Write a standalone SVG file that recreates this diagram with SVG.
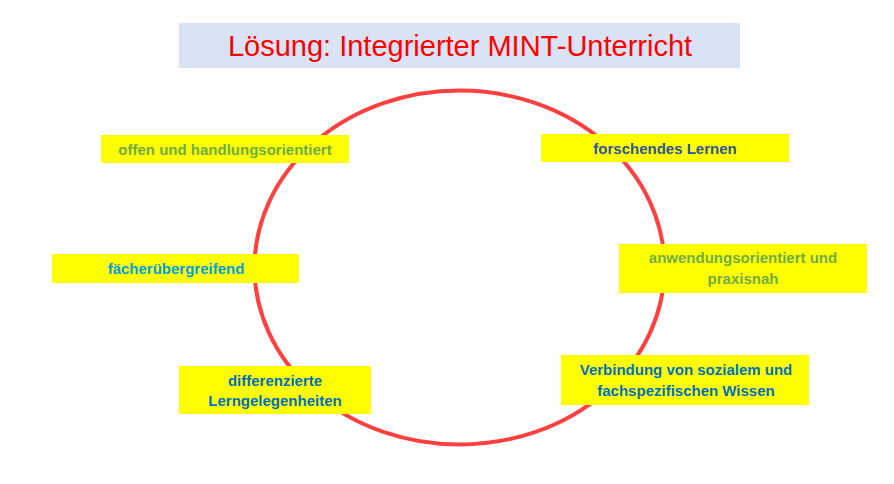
<svg xmlns="http://www.w3.org/2000/svg" width="894" height="484" viewBox="0 0 894 484">
<style>
.box{fill:#FFFF00}
.t{font-family:"Liberation Sans",Arial,sans-serif;font-weight:bold;font-size:15px;text-anchor:middle}
.g{fill:#70AD47}
.db{fill:#2F5597}
.cy{fill:#00A0E0}
.bl{fill:#0070C0}
</style>
<rect width="894" height="484" fill="#FFFFFF"/>
<g id="title">
<rect x="179" y="23" width="561" height="45" fill="#DAE3F3"/>
<text x="460" y="56" font-family="Liberation Sans, Arial, sans-serif" font-size="29" fill="#FF0000" text-anchor="middle">Lösung: Integrierter MINT-Unterricht</text>
</g>
<g id="connectors">
<ellipse cx="459.5" cy="267.5" rx="205" ry="177" fill="none" stroke="#FF4040" stroke-width="4"/>
</g>
<g id="n1">
<rect class="box" x="101" y="135" width="248" height="28"/>
<text class="t g" x="225" y="155">offen und handlungsorientiert</text>
</g>
<g id="n2">
<rect class="box" x="541" y="134" width="248" height="28"/>
<text class="t db" x="665" y="154">forschendes Lernen</text>
</g>
<g id="n3">
<rect class="box" x="52" y="254" width="247" height="29"/>
<text class="t cy" x="176" y="274">fächerübergreifend</text>
</g>
<g id="n4">
<rect class="box" x="619" y="244" width="248" height="49"/>
<text class="t g" x="743" y="263">anwendungsorientiert und</text>
<text class="t g" x="743" y="284">praxisnah</text>
</g>
<g id="n5">
<rect class="box" x="179" y="366" width="192" height="48"/>
<text class="t bl" x="275" y="386">differenzierte</text>
<text class="t bl" x="275" y="406">Lerngelegenheiten</text>
</g>
<g id="n6">
<rect class="box" x="561" y="355" width="248" height="50"/>
<text class="t bl" x="686" y="375">Verbindung von sozialem und</text>
<text class="t bl" x="686" y="396">fachspezifischen Wissen</text>
</g>
</svg>
